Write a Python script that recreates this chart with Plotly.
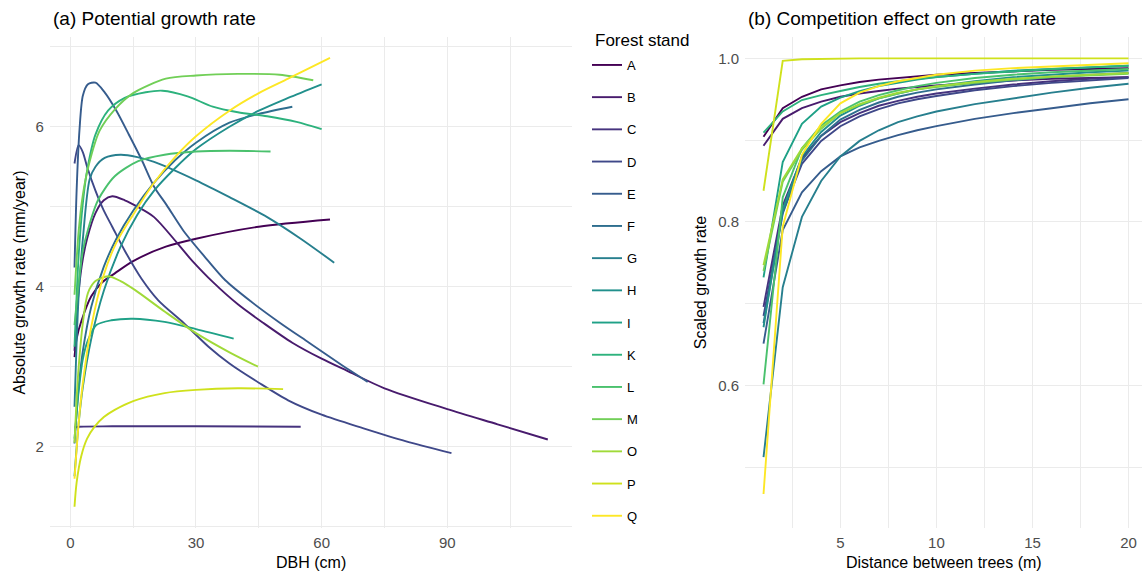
import plotly.graph_objects as go

STANDS = ["A", "B", "C", "D", "E", "F", "G", "H", "I", "K", "L", "M", "O", "P", "Q"]
COLORS = ["#440154", "#481B6D", "#46337E", "#3F4889", "#365C8D", "#2E6E8E", "#277F8E",
          "#21908C", "#1FA187", "#2DB27D", "#4AC16D", "#71CF57", "#A0DA39", "#CFE11C", "#FDE725"]

# ---- panel (a): potential growth rate vs DBH ----
A_DBH = [1, 1.5, 2.7, 5, 7.5, 10.7, 15, 22.8, 30, 45, 62]
A_RATE = [3.12, 3.35, 3.58, 3.88, 4.05, 4.17, 4.32, 4.5, 4.6, 4.75, 4.84]
B_DBH = [1, 1.5, 2, 3, 4, 6, 8, 10, 13, 16, 20, 29, 34, 40, 46, 53, 60, 66, 75, 90, 102, 114]
B_RATE = [3.2, 3.6, 3.95, 4.35, 4.6, 4.92, 5.08, 5.13, 5.08, 5.0, 4.87, 4.33, 4.06, 3.78, 3.55, 3.3, 3.1, 2.95, 2.73, 2.47, 2.28, 2.09]
C_DBH = [1, 2, 10, 30, 55]
C_RATE = [2.24, 2.25, 2.255, 2.255, 2.25]
D_DBH = [1, 2, 3, 4, 6, 8, 10, 13, 17, 21, 27, 33, 38, 45, 52, 60, 70, 80, 91]
D_RATE = [5.54, 5.77, 5.68, 5.5, 5.2, 4.95, 4.75, 4.45, 4.1, 3.83, 3.55, 3.25, 3.04, 2.8, 2.58, 2.4, 2.23, 2.07, 1.92]
E_DBH = [1, 1.5, 2.2, 3, 4.2, 6, 8.2, 11, 14, 17, 20, 23, 27, 32, 37, 43, 50, 57, 64, 71]
E_RATE = [4.24, 5.2, 5.97, 6.39, 6.53, 6.55, 6.43, 6.2, 5.9, 5.59, 5.25, 5.02, 4.7, 4.38, 4.08, 3.82, 3.55, 3.3, 3.05, 2.81]
F_DBH = [1, 2, 3, 5, 8, 11, 15, 20, 25, 30, 38, 45, 53]
F_RATE = [2.04, 2.75, 3.2, 3.75, 4.25, 4.6, 4.95, 5.3, 5.58, 5.8, 6.05, 6.16, 6.25]
G_DBH = [1, 1.5, 2, 3, 4.6, 6, 8.2, 12, 16, 20, 30, 38, 47, 55, 63]
G_RATE = [2.5, 3.3, 3.9, 4.6, 5.34, 5.5, 5.61, 5.65, 5.62, 5.56, 5.33, 5.12, 4.87, 4.6, 4.3]
H_DBH = [1, 2, 3, 5, 8, 12, 16, 20, 25, 30, 38, 45, 52, 60]
H_RATE = [1.63, 2.3, 2.75, 3.35, 3.95, 4.5, 4.9, 5.2, 5.48, 5.72, 6.0, 6.2, 6.36, 6.53]
I_DBH = [1, 2, 3, 4.2, 6.2, 9.8, 15, 22.5, 30, 39]
I_RATE = [2.1, 2.7, 3.1, 3.33, 3.52, 3.58, 3.6, 3.56, 3.47, 3.35]
K_DBH = [1, 2, 3, 4, 6, 9, 13, 18, 22, 28, 34, 40, 47, 54, 60]
K_RATE = [3.25, 4.4, 5.05, 5.45, 5.9, 6.2, 6.36, 6.43, 6.45, 6.38, 6.25, 6.18, 6.13, 6.06, 5.97]
L_DBH = [1, 2, 3, 4.2, 6.6, 10.6, 16.2, 22.5, 30, 38, 47.8]
L_RATE = [3.52, 4.05, 4.45, 4.71, 5.08, 5.38, 5.57, 5.65, 5.69, 5.7, 5.69]
M_DBH = [1, 2, 3, 4.3, 7, 10.7, 15, 22.8, 30, 40, 50, 58]
M_RATE = [3.9, 4.7, 5.15, 5.5, 5.95, 6.22, 6.42, 6.6, 6.64, 6.66, 6.65, 6.58]
O_DBH = [1, 1.5, 2, 3, 4.2, 6, 9, 12, 15.4, 22.5, 30, 38, 44.8]
O_RATE = [2.05, 2.6, 3.0, 3.55, 3.92, 4.07, 4.13, 4.07, 3.96, 3.69, 3.42, 3.18, 3.0]
P_DBH = [1, 1.5, 2.6, 4, 5.8, 8, 10.6, 15, 22.5, 30, 40, 50.8]
P_RATE = [1.25, 1.55, 1.88, 2.1, 2.25, 2.37, 2.46, 2.57, 2.67, 2.71, 2.73, 2.72]
Q_DBH = [1, 2, 3, 5, 8, 11, 15, 20, 25, 30, 38, 45, 52, 62]
Q_RATE = [1.6, 2.3, 2.8, 3.5, 4.15, 4.55, 4.9, 5.3, 5.62, 5.88, 6.2, 6.42, 6.6, 6.86]

# ---- panel (b): scaled growth rate vs distance ----
DIST = [1, 2, 3, 4, 5, 6, 7, 8, 9, 10, 12, 14, 16, 18, 20]
A_SCALED = [0.904, 0.939, 0.953, 0.962, 0.967, 0.971, 0.974, 0.976, 0.978, 0.980, 0.982, 0.984, 0.986, 0.987, 0.988]
B_SCALED = [0.893, 0.926, 0.939, 0.947, 0.953, 0.957, 0.960, 0.963, 0.965, 0.967, 0.970, 0.973, 0.975, 0.976, 0.977]
C_SCALED = [0.696, 0.820, 0.878, 0.905, 0.922, 0.933, 0.942, 0.948, 0.953, 0.957, 0.963, 0.968, 0.972, 0.975, 0.977]
D_SCALED = [0.685, 0.812, 0.871, 0.899, 0.917, 0.929, 0.938, 0.945, 0.950, 0.954, 0.961, 0.966, 0.970, 0.973, 0.976]
E_SCALED = [0.651, 0.790, 0.836, 0.862, 0.880, 0.891, 0.899, 0.906, 0.912, 0.917, 0.926, 0.933, 0.939, 0.945, 0.950]
F_SCALED = [0.676, 0.810, 0.875, 0.905, 0.925, 0.937, 0.946, 0.953, 0.958, 0.962, 0.968, 0.973, 0.977, 0.980, 0.982]
G_SCALED = [0.512, 0.720, 0.806, 0.850, 0.880, 0.899, 0.912, 0.922, 0.929, 0.935, 0.944, 0.951, 0.958, 0.964, 0.969]
H_SCALED = [0.671, 0.815, 0.880, 0.910, 0.930, 0.942, 0.951, 0.957, 0.962, 0.966, 0.972, 0.977, 0.980, 0.983, 0.985]
I_SCALED = [0.732, 0.873, 0.920, 0.941, 0.952, 0.960, 0.966, 0.970, 0.974, 0.977, 0.981, 0.985, 0.987, 0.989, 0.991]
K_SCALED = [0.909, 0.935, 0.949, 0.955, 0.960, 0.965, 0.969, 0.972, 0.975, 0.977, 0.981, 0.984, 0.987, 0.989, 0.991]
L_SCALED = [0.601, 0.830, 0.890, 0.918, 0.935, 0.947, 0.955, 0.961, 0.966, 0.970, 0.976, 0.980, 0.983, 0.985, 0.987]
M_SCALED = [0.740, 0.849, 0.888, 0.914, 0.933, 0.943, 0.951, 0.957, 0.962, 0.965, 0.970, 0.974, 0.977, 0.979, 0.981]
O_SCALED = [0.747, 0.852, 0.890, 0.915, 0.933, 0.944, 0.952, 0.958, 0.962, 0.966, 0.971, 0.975, 0.978, 0.980, 0.982]
P_SCALED = [0.838, 0.997, 0.999, 0.9995, 1.0, 1.0, 1.0, 1.0, 1.0, 1.0, 1.0, 1.0, 1.0, 1.0, 1.0]
Q_SCALED = [0.467, 0.794, 0.882, 0.920, 0.945, 0.958, 0.966, 0.972, 0.976, 0.980, 0.985, 0.988, 0.990, 0.992, 0.994]

G_ = globals()
FONT = "Liberation Sans, Arial, sans-serif"
W, H = 1142, 575

fig = go.Figure()
for name, col in zip(STANDS, COLORS):
    fig.add_trace(go.Scatter(
        x=G_[name + "_DBH"], y=G_[name + "_RATE"], mode="lines", name=name,
        legendgroup=name, line=dict(color=col, width=1.9, shape="spline", smoothing=0.8),
        xaxis="x", yaxis="y", hoverinfo="skip"))
for name, col in zip(STANDS, COLORS):
    fig.add_trace(go.Scatter(
        x=DIST, y=G_[name + "_SCALED"], mode="lines", name=name, showlegend=False,
        legendgroup=name, line=dict(color=col, width=1.9),
        xaxis="x2", yaxis="y2", hoverinfo="skip"))

grid = "#EBEBEB"
tickfont = dict(family=FONT, size=15, color="#4D4D4D")
common = dict(showgrid=True, gridcolor=grid, gridwidth=1.1, zeroline=False, showline=False,
              ticks="", tickfont=tickfont)


def px(v):
    return v / W


def py(v):
    return 1 - v / H


fig.update_layout(
    width=W, height=H,
    margin=dict(l=0, r=0, t=0, b=0),
    paper_bgcolor="white", plot_bgcolor="white",
    font=dict(family=FONT, color="black"),
    xaxis=dict(domain=[px(49.8), px(572.1)], range=[-4.9, 119.8], tickvals=[0, 30, 60, 90],
               minor=dict(dtick=15, tick0=15, showgrid=True, gridcolor=grid, gridwidth=0.55),
               anchor="y", ticklabelstandoff=4, **common),
    yaxis=dict(domain=[py(528.3), py(36.7)], range=[0.98, 7.125], tickvals=[2, 4, 6],
               minor=dict(dtick=1, tick0=1, showgrid=True, gridcolor=grid, gridwidth=0.55),
               anchor="x", ticklabelstandoff=5, **common),
    xaxis2=dict(domain=[px(745), 1.0], range=[0.036, 20.7], tickvals=[5, 10, 15, 20],
                minor=dict(dtick=2.5, tick0=0, showgrid=True, gridcolor=grid, gridwidth=0.55),
                anchor="y2", ticklabelstandoff=4, **common),
    yaxis2=dict(domain=[py(528.3), py(36.7)], range=[0.425, 1.0265], tickvals=[0.6, 0.8, 1.0],
                ticktext=["0.6", "0.8", "1.0"],
                minor=dict(dtick=0.1, tick0=0.5, showgrid=True, gridcolor=grid, gridwidth=0.55),
                anchor="x2", ticklabelstandoff=5, **common),
    legend=dict(x=px(587), xanchor="left", y=py(50), yanchor="top",
                font=dict(family=FONT, size=13, color="black"),
                traceorder="grouped", tracegroupgap=12.3, itemwidth=30,
                bgcolor="rgba(0,0,0,0)", borderwidth=0),
    showlegend=True,
)

ann = [
    dict(text="(a) Potential growth rate", x=px(50.9), y=py(18.5), xanchor="left", yanchor="middle",
         font=dict(size=19)),
    dict(text="(b) Competition effect on growth rate", x=px(745.7), y=py(18.5), xanchor="left",
         yanchor="middle", font=dict(size=19)),
    dict(text="Forest stand", x=px(593), y=py(40.7), xanchor="left", yanchor="middle",
         font=dict(size=17)),
    dict(text="DBH (cm)", x=px(311), y=py(562.7), xanchor="center", yanchor="middle",
         font=dict(size=16)),
    dict(text="Distance between trees (m)", x=px(943.5), y=py(562.7), xanchor="center",
         yanchor="middle", font=dict(size=16)),
    dict(text="Absolute growth rate (mm/year)", x=px(19.1), y=py(282.5), xanchor="center",
         yanchor="middle", textangle=-90, font=dict(size=16)),
    dict(text="Scaled growth rate", x=px(700.7), y=py(282.5), xanchor="center",
         yanchor="middle", textangle=-90, font=dict(size=16)),
]
for a in ann:
    a.update(xref="paper", yref="paper", showarrow=False)
    a["font"] = dict(family=FONT, color="black", **a["font"])
fig.update_layout(annotations=ann)

fig.write_html("out.html", post_script="document.body.style.margin='0';",
               config={"displayModeBar": False})
